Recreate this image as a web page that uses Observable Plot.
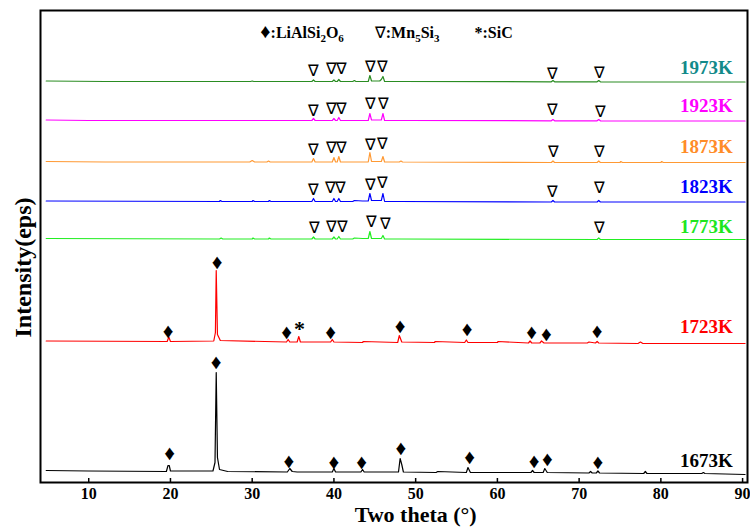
<!DOCTYPE html>
<html>
<head>
<meta charset="utf-8">
<script src="https://cdn.jsdelivr.net/npm/d3@7"></script>
<script src="https://cdn.jsdelivr.net/npm/@observablehq/plot@0.6"></script>
<style>
  html, body { margin: 0; padding: 0; background: #fff; }
  #chart { width: 750px; height: 532px; }
</style>
</head>
<body>
<div id="chart"></div>
<script>
// ---- Data (2θ in degrees, intensity in arbitrary stacked units) ----
const xTicks = [10, 20, 30, 40, 50, 60, 70, 80, 90];

const samples = ["1973K", "1923K", "1873K", "1823K", "1773K", "1723K", "1673K"];
const lineColors = ["#2A8C22", "#FF00FF", "#FF9933", "#0000FF", "#22EE22", "#FF0000", "#000000"];
const labelColors = ["#138A8A", "#FF00FF", "#FF8C28", "#0000FF", "#1EE61E", "#FF0000", "#000000"];
const labelY = [415, 377, 336, 296, 256, 156, 22];

const t1973 = [[4.8,401.5],[12,401],[20,401],[29.8,401],[30,401.5],[30.2,401],[37.3,401],[37.5,402.5],[37.7,401],[39.8,401],[40.0,402.5],[40.2,401],[40.4,401],[40.6,403],[40.8,401],[42.3,401],[42.5,402],[42.7,401],[44.2,401],[44.4,407],[44.6,401.5],[45.6,401.5],[45.8,403],[46.0,406],[46.2,401],[48,401],[66.6,400.7],[66.8,402],[67,400.7],[72.2,400.7],[72.4,402],[72.6,400.7],[90.3,400.5]];
const t1923 = [[4.8,362.5],[10,362],[37.3,362],[37.5,364],[37.7,362],[39.8,362],[40.0,364],[40.2,362],[40.4,362],[40.6,365],[40.8,362],[44.2,362],[44.4,369],[44.6,362.5],[45.8,362.5],[46.0,369],[46.2,362],[49,362],[66.6,361.7],[66.8,363],[67,361.7],[72.2,361.7],[72.4,363],[72.6,361.7],[90.3,361.5]];
const t1873 = [[4.8,321],[12,320.5],[29.7,320.5],[30.0,322],[30.3,320.5],[31.8,320.5],[32.0,321.5],[32.2,320.5],[37.3,320.5],[37.5,324],[37.7,320.5],[39.8,320.5],[40.0,325],[40.2,320.5],[40.4,320.5],[40.6,326],[40.8,320.5],[44.2,320.5],[44.4,330],[44.6,321],[45.8,321],[46.0,326],[46.2,320.5],[48,320.5],[48.2,321.5],[48.4,320.5],[66.6,320],[66.8,321.5],[67,320],[72.2,320],[72.4,321.5],[72.6,320],[75,320],[75.1,321],[75.3,320],[80,320],[80.1,321],[80.3,320],[90.3,320]];
const t1823 = [[4.8,281.5],[26,281],[26.1,282],[26.3,281],[30,281],[30.1,282],[30.3,281],[32,281],[32.1,282],[32.3,281],[37.3,281],[37.5,284],[37.7,281],[39.8,281],[40.0,284],[40.2,281],[40.4,281],[40.6,284],[40.8,281],[42.3,281],[42.5,282],[43.5,281.5],[44.2,281.5],[44.4,289],[44.6,282],[45.8,282],[46.0,289],[46.2,281],[48,281],[66.6,280.5],[66.8,282],[67,280.5],[72.2,280.5],[72.4,282],[72.6,280.5],[90.3,280.5]];
const t1773 = [[4.8,244],[26,243.5],[26.2,244.5],[26.4,243.5],[30,243.5],[30.1,244.5],[30.3,243.5],[32,243.5],[32.1,244.5],[32.3,243.5],[37.3,243.5],[37.5,245.5],[37.7,243.5],[39.8,243.5],[40.0,245.5],[40.2,243.5],[40.4,243.5],[40.6,246],[40.8,243.5],[42.3,243.5],[42.5,244.5],[43.5,244],[44.2,244],[44.4,251],[44.6,244],[45.8,244],[46.0,247],[46.2,243.5],[48,243.5],[72.2,243],[72.4,244.5],[72.6,243],[90.3,243]];
const t1723 = [[4.8,141.5],[19.6,141],[19.8,145.5],[20,141],[25.3,141.5],[25.5,150],[25.6,212],[25.75,148],[26.1,142],[34.2,140.5],[34.4,143],[34.6,140.5],[35.5,140.5],[35.7,146],[35.9,140.5],[39.6,140.5],[39.8,143],[40,140.5],[43.5,140],[43.6,141],[47.8,140],[48,147],[48.3,140.5],[52.3,140],[52.4,141],[56,140],[56.2,142.5],[56.4,140],[60,140],[60.1,141],[63.8,139.5],[64,141.5],[64.2,139.5],[65.2,139.5],[65.4,141.5],[65.7,139.5],[71,139.5],[71.2,140.5],[72,139.5],[72.2,141],[72.4,139.5],[77.2,139],[77.5,140.5],[77.8,139],[90.3,139]];
const t1673 = [[4.8,12],[10,11.5],[19.5,11],[19.7,17],[19.85,17],[20.0,11.5],[25.2,11.5],[25.45,20],[25.6,110],[25.75,25],[26,13],[27,11],[34.3,10.5],[34.6,14],[34.9,11],[35.5,10.5],[39.8,10.5],[40.0,14],[40.2,10.5],[43.3,10.5],[43.5,13],[43.7,10.5],[47.9,10.5],[48.1,24],[48.3,18],[48.5,10.5],[52.5,10],[52.7,11],[56.2,10],[56.4,15],[56.7,10],[64.1,10],[64.3,12],[64.5,10],[65.6,10],[65.8,14],[66.1,10],[71.2,9.5],[71.4,11],[71.6,9.5],[72.1,9.5],[72.3,11.5],[72.5,9.5],[77.9,9],[78.1,11],[78.3,9],[85,9],[85.2,10],[85.4,9],[90.3,8]];
const traces = [t1973, t1923, t1873, t1823, t1773, t1723, t1673];

// Phase markers: [2θ, stacked position]
const mn5si3Marks = [
  [37.5,412],[39.7,414],[40.9,414],[44.5,416],[46.0,416],[66.8,409],[72.5,410],
  [37.5,372],[39.7,374],[40.9,374],[44.5,379],[46.1,379],[66.8,373],[72.6,371],
  [37.5,333],[39.7,335],[40.9,335],[44.5,338],[46.0,339],[66.9,331],[72.5,331],
  [37.5,293],[39.6,295],[40.8,295],[44.5,298],[46.0,300],[66.8,291],[72.5,295],
  [37.6,255],[39.7,256],[41.0,256],[44.6,261],[46.3,259],[72.5,255]
];
const lialsi2o6Marks = [
  [19.7,151],[25.7,220],[34.2,150],[39.6,150],[48.1,156],[56.3,153],[64.2,150],[66.0,148],[72.2,151],
  [19.9,29],[25.6,120],[34.5,21],[40.0,20],[43.4,20],[48.2,34],[56.6,25],[64.5,21],[66.1,23],[72.3,20]
];
const sicMarks = [[35.8,154]];

const legendText = ["♦:LiAlSi2O6", "∇:Mn5Si3", "*:SiC"];
const legendX = [31.0, 45.0, 57.2];
const legendY = 450;

// ---- Build ----
const serif = "'Liberation Serif', 'Times New Roman', serif";
const lineMarks = traces.map((t, i) =>
  Plot.line(t, {x: d => d[0], y: d => d[1], stroke: lineColors[i], strokeWidth: 1.2})
);
const labels = samples.map((s, i) => ({s, y: labelY[i], c: labelColors[i]}));

const chart = Plot.plot({
  width: 750,
  height: 532,
  marginTop: 10,
  marginBottom: 50,
  marginLeft: 40,
  marginRight: 3,
  style: {fontFamily: serif, fontSize: "16px", fontWeight: "bold", background: "#fff", color: "#000"},
  x: {domain: [4.1, 90.6]},
  y: {domain: [0, 472], axis: null},
  marks: [
    ...lineMarks,
    Plot.ruleX(xTicks, {x: d => d, y1: 0, y2: 4, stroke: "#000", strokeWidth: 1.5}),
    Plot.axisX({ticks: xTicks, tickSize: 0, tickPadding: 5, label: null, fontSize: 16, fontWeight: "bold"}),
    Plot.text(mn5si3Marks, {x: d => d[0], y: d => d[1], text: () => "∇", fontSize: 16, fontWeight: "normal", fill: "#000", lineAnchor: "middle"}),
    Plot.text(lialsi2o6Marks, {x: d => d[0], y: d => d[1], text: () => "♦", fontSize: 21, fill: "#000", lineAnchor: "middle"}),
    Plot.text(sicMarks, {x: d => d[0], y: d => d[1], text: () => "*", fontSize: 22, fontWeight: "bold", fill: "#000", lineAnchor: "middle"}),
    Plot.text(labels, {x: 88.8, y: "y", text: "s", fill: "c", textAnchor: "end", lineAnchor: "middle", fontSize: 19, fontWeight: "bold"}),
    Plot.text(legendText, {x: (d, i) => legendX[i], y: legendY, text: d => d, textAnchor: "start", lineAnchor: "middle", fontSize: 16, fontWeight: "bold", fill: "#000"}),
    Plot.text(["Two theta (°)"], {x: 50, frameAnchor: "bottom", dy: 39, text: d => d, fontSize: 22, fontWeight: "bold", fill: "#000"}),
    Plot.text(["Intensity(eps)"], {x: 4.1, y: 215, textAnchor: "middle", lineAnchor: "middle", dx: -17, rotate: -90, text: d => d, fontSize: 24, fontWeight: "bold", fill: "#000"}),
    Plot.frame({stroke: "#000", strokeWidth: 2})
  ]
});

// Subscripts in the chemical formulas of the legend
chart.querySelectorAll("text").forEach(t => {
  const s = t.textContent;
  if (!legendText.includes(s)) return;
  while (t.firstChild) t.removeChild(t.firstChild);
  const ns = "http://www.w3.org/2000/svg";
  let sub = false;
  for (const ch of s) {
    const span = document.createElementNS(ns, "tspan");
    span.textContent = ch;
    const isDigit = /\d/.test(ch);
    if (isDigit && !sub) { span.setAttribute("dy", "4"); sub = true; }
    else if (!isDigit && sub) { span.setAttribute("dy", "-4"); sub = false; }
    if (isDigit) span.setAttribute("font-size", "11");
    if (ch === "♦") span.setAttribute("font-size", "20");
    if (ch === "∇") span.setAttribute("font-weight", "normal");
    t.appendChild(span);
  }
});

document.getElementById("chart").appendChild(chart);
</script>
</body>
</html>
